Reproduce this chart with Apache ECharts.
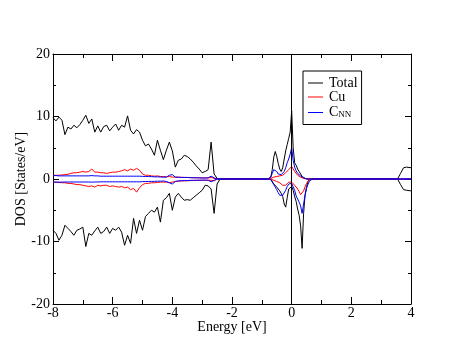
<!DOCTYPE html>
<html>
<head>
<meta charset="utf-8">
<script src="https://cdn.jsdelivr.net/npm/echarts@6/dist/echarts.min.js"></script>
<style>
  html, body { margin: 0; padding: 0; background: #fff; }
  #chart { width: 463px; height: 358px; }
</style>
</head>
<body>
<div id="chart"></div>
<script>
// energy grid [eV]: valence band, states around E_F, edge at 4 eV
var energy = [
  -8.0, -7.9, -7.8, -7.7, -7.6, -7.5, -7.4, -7.3, -7.2, -7.1,
  -7.0, -6.9, -6.8, -6.7, -6.6, -6.5, -6.4, -6.3, -6.2, -6.1,
  -6.0, -5.9, -5.8, -5.7, -5.6, -5.5, -5.4, -5.3, -5.2, -5.1,
  -5.0, -4.9, -4.8, -4.7, -4.6, -4.5, -4.4, -4.3, -4.2, -4.1,
  -4.0, -3.9, -3.8, -3.7, -3.6, -3.5, -3.4, -3.3, -3.2, -3.1,
  -3.0, -2.9, -2.8, -2.7, -2.6, -2.5, -2.4, -2.3,
  -0.8, -0.75, -0.7, -0.65, -0.6, -0.55, -0.5, -0.45, -0.4, -0.35,
  -0.3, -0.25, -0.2, -0.15, -0.1, -0.05, 0.0, 0.05, 0.1, 0.15,
  0.2, 0.25, 0.3, 0.35, 0.4, 0.45, 0.5, 0.55, 0.6, 0.65, 0.7,
  3.55, 3.65, 3.75, 3.85, 4.0
]

var totalUp = [
  9.8, 9.3, 9.9, 9.4, 7.1, 8.3, 8.0, 8.6, 8.2, 8.7,
  9.4, 10.2, 8.9, 9.6, 7.5, 8.5, 7.5, 8.4, 8.6, 7.7,
  8.3, 8.8, 7.8, 8.6, 8.3, 10.1, 7.8, 7.2, 7.9, 7.5,
  6.2, 5.3, 5.6, 4.8, 3.8, 6.2, 4.6, 3.1, 4.6, 5.9,
  4.5, 1.9, 3.0, 3.2, 3.8, 3.6, 3.2, 2.7, 2.1, 1.6,
  1.0, 1.2, 1.5, 5.9, 0.8, 0.1, 0, 0,
  0, 0, 0.3, 1.5, 3.5, 4.4, 3.6, 2.5, 1.6, 1.2,
  1.8, 3.2, 4.5, 5.5, 6.5, 7.5, 10.9, 5.0, 2.6, 2.2,
  1.6, 1.2, 0.8, 0.4, 0.2, 0.1, 0, 0, 0, 0, 0,
  0, 0.9, 1.8, 1.9, 1.8
]
var totalDown = [
  -8.2, -8.7, -9.8, -9.0, -7.4, -7.9, -8.4, -9.0, -8.2, -8.0,
  -7.7, -10.8, -8.7, -9.0, -8.3, -7.7, -8.7, -8.4, -7.7, -8.7,
  -7.9, -8.2, -7.7, -8.5, -10.6, -9.0, -10.3, -6.3, -8.7, -6.6,
  -8.2, -6.0, -5.5, -5.0, -5.3, -4.5, -6.9, -3.4, -3.0, -2.3,
  -5.0, -2.9, -2.3, -2.9, -3.4, -3.3, -3.4, -3.0, -2.6, -2.2,
  -1.8, -1.0, -1.1, -1.6, -5.5, -0.8, 0, 0,
  0, 0, 0, -0.3, -0.8, -1.1, -1.3, -1.6, -1.9, -2.3,
  -2.8, -4.0, -4.5, -3.0, -1.6, -1.3, -1.2, -1.8, -2.8, -3.6,
  -4.8, -5.8, -7.5, -11.1, -5.5, -2.5, -1.2, -0.4, 0, 0, 0,
  0, -0.9, -1.7, -1.8, -1.9
]

var cuUp = [
  0.6, 0.6, 0.6, 0.65, 0.7, 0.75, 0.9, 1.0, 1.0, 1.1,
  1.2, 1.1, 1.2, 1.6, 1.1, 1.1, 1.0, 1.0, 0.9, 1.0,
  1.1, 1.1, 1.2, 1.3, 1.5, 1.3, 1.6, 1.4, 1.7, 1.4,
  0.8, 0.6, 0.6, 0.5, 0.45, 0.5, 0.4, 0.4, 0.35, 0.4,
  0.3, 0.3, 0.3, 0.28, 0.25, 0.25, 0.22, 0.2, 0.2, 0.2,
  0.2, 0.18, 0.15, 0.25, 0.1, 0, 0, 0,
  0, 0, 0.1, 0.2, 0.3, 0.4, 0.4, 0.4, 0.5, 0.5,
  0.6, 0.8, 1.0, 1.2, 1.5, 1.8, 2.0, 1.6, 1.2, 0.9,
  0.6, 0.4, 0.3, 0.2, 0.1, 0.05, 0, 0, 0, 0, 0,
  0, 0, 0, 0, 0
]
var cuDown = [
  -0.5, -0.5, -0.55, -0.6, -0.6, -0.7, -0.7, -0.8, -0.9, -0.9,
  -1.0, -1.1, -1.2, -1.1, -1.3, -1.0, -1.1, -1.0, -1.0, -1.2,
  -1.1, -1.2, -1.3, -1.2, -1.4, -1.3, -1.7, -1.5, -2.1, -1.4,
  -0.9, -0.7, -0.7, -0.6, -0.6, -0.55, -0.5, -0.5, -0.5, -0.6,
  -0.5, -0.4, -0.35, -0.3, -0.3, -0.28, -0.25, -0.25, -0.22, -0.2,
  -0.2, -0.2, -0.2, -0.2, -0.3, 0, 0, 0,
  0, 0, 0, -0.1, -0.2, -0.3, -0.4, -0.5, -0.6, -0.8,
  -1.0, -1.2, -1.0, -0.7, -0.5, -0.4, -0.5, -0.7, -1.0, -1.3,
  -1.6, -2.0, -2.5, -2.6, -1.9, -1.2, -0.7, -0.3, -0.1, 0, 0,
  0, 0, 0, 0, 0
]

var cnnUp = [
  0.55, 0.55, 0.5, 0.5, 0.5, 0.5, 0.5, 0.5, 0.5, 0.5,
  0.5, 0.5, 0.5, 0.55, 0.5, 0.5, 0.45, 0.45, 0.45, 0.45,
  0.45, 0.45, 0.45, 0.45, 0.45, 0.45, 0.45, 0.45, 0.45, 0.45,
  0.42, 0.4, 0.4, 0.38, 0.35, 0.35, 0.32, 0.3, 0.3, 0.6,
  0.7, 0.3, 0.28, 0.25, 0.25, 0.25, 0.22, 0.2, 0.2, 0.18,
  0.15, 0.15, 0.2, 0.45, 0.2, 0, 0, 0,
  0, 0, 0.3, 0.9, 1.5, 1.7, 1.2, 0.8, 0.6, 0.7,
  0.9, 1.2, 1.8, 2.6, 3.2, 4.0, 5.0, 3.0, 1.9, 1.3,
  0.9, 0.7, 0.5, 0.4, 0.2, 0.1, 0, 0, 0, 0, 0,
  0, 0, 0, 0, 0
]
var cnnDown = [
  -0.5, -0.5, -0.5, -0.5, -0.48, -0.48, -0.48, -0.48, -0.48, -0.48,
  -0.48, -0.48, -0.48, -0.5, -0.48, -0.48, -0.45, -0.45, -0.45, -0.45,
  -0.45, -0.45, -0.45, -0.45, -0.45, -0.45, -0.45, -0.45, -0.45, -0.45,
  -0.42, -0.4, -0.4, -0.38, -0.38, -0.35, -0.35, -0.32, -0.4, -0.6,
  -0.8, -0.4, -0.3, -0.28, -0.25, -0.25, -0.22, -0.2, -0.2, -0.2,
  -0.18, -0.18, -0.2, -0.45, -0.2, 0, 0, 0,
  0, 0, -0.1, -0.4, -0.9, -1.3, -1.7, -2.2, -2.6, -2.8,
  -2.6, -2.3, -1.8, -1.2, -0.8, -0.7, -0.7, -0.8, -1.8, -2.7,
  -3.2, -3.7, -4.3, -5.5, -4.0, -2.6, -1.5, -0.8, -0.3, 0, 0,
  0, 0, 0, 0, 0
]

var seriesNames = ['Total', 'Cu', 'C_NN']
var seriesColors = ['#000000', '#ff0000', '#0000ff']
var xTicks = { min: -8, max: 4, interval: 2 }
var yTicks = { min: -20, max: 20, interval: 10 }

var font = 'Liberation Serif, Times New Roman, serif'

function pairs (arr) {
  return energy.map(function (e, i) { return [e, arr[i]] })
}

function dosLine (name, color, arr) {
  return {
    name: name,
    type: 'line',
    data: pairs(arr),
    showSymbol: false,
    symbol: 'none',
    color: color,
    lineStyle: { color: color, width: 1 },
    animation: false,
    silent: true
  }
}

var chart = echarts.init(document.getElementById('chart'))

var series = [
  dosLine(seriesNames[0], seriesColors[0], totalUp),
  dosLine(seriesNames[0], seriesColors[0], totalDown),
  dosLine(seriesNames[1], seriesColors[1], cuUp),
  dosLine(seriesNames[1], seriesColors[1], cuDown),
  dosLine(seriesNames[2], seriesColors[2], cnnUp),
  dosLine(seriesNames[2], seriesColors[2], cnnDown)
]
// Fermi level
series[0].markLine = {
  silent: true,
  symbol: ['none', 'none'],
  label: { show: false },
  lineStyle: { color: '#000', type: 'solid', width: 1 },
  data: [{ xAxis: 0 }]
}

var tickStyle = { lineStyle: { color: '#000', width: 1 } }

chart.setOption({
  backgroundColor: '#fff',
  animation: false,
  grid: { left: 53, top: 54, right: 52, bottom: 54 },
  legend: {
    data: seriesNames,
    orient: 'vertical',
    left: 303,
    top: 71,
    padding: [5, 4, 5, 5],
    itemGap: 0,
    itemWidth: 15,
    itemHeight: 1,
    icon: 'rect',
    borderColor: '#000',
    borderWidth: 1,
    selectedMode: false,
    formatter: function (name) {
      return name === 'C_NN' ? '{c|C}{s|NN}' : name
    },
    textStyle: {
      fontFamily: font,
      fontSize: 14,
      color: '#000',
      lineHeight: 13,
      padding: [0, 0, 0, 1],
      rich: {
        c: { fontFamily: font, fontSize: 14, color: '#000', lineHeight: 13 },
        s: { fontFamily: font, fontSize: 9, color: '#000', verticalAlign: 'bottom', lineHeight: 13, padding: [6, 0, 0, 0] }
      }
    }
  },
  xAxis: [{
    type: 'value',
    min: xTicks.min,
    max: xTicks.max,
    interval: xTicks.interval,
    name: 'Energy [eV]',
    nameLocation: 'middle',
    nameGap: 16,
    nameMoveOverlap: false,
    nameTextStyle: { fontFamily: font, fontSize: 14, color: '#000' },
    axisLine: { onZero: false, lineStyle: { color: '#000', width: 1 } },
    axisTick: { inside: true, length: 7, lineStyle: tickStyle.lineStyle },
    minorTick: { show: true, splitNumber: 2, length: 4, lineStyle: tickStyle.lineStyle },
    axisLabel: { margin: 2, fontFamily: font, fontSize: 14, color: '#000' },
    splitLine: { show: false }
  }, {
    type: 'value',
    position: 'top',
    min: xTicks.min,
    max: xTicks.max,
    interval: xTicks.interval,
    axisLine: { onZero: false, lineStyle: { color: '#000', width: 1 } },
    axisTick: { inside: true, length: 7, lineStyle: tickStyle.lineStyle },
    minorTick: { show: true, splitNumber: 2, length: 4, lineStyle: tickStyle.lineStyle },
    axisLabel: { show: false },
    splitLine: { show: false }
  }],
  yAxis: [{
    type: 'value',
    min: yTicks.min,
    max: yTicks.max,
    interval: yTicks.interval,
    name: 'DOS [States/eV]',
    nameLocation: 'middle',
    nameGap: 25,
    nameMoveOverlap: false,
    nameTextStyle: { fontFamily: font, fontSize: 14, color: '#000' },
    axisLine: { onZero: false, lineStyle: { color: '#000', width: 1 } },
    axisTick: { inside: true, length: 6, lineStyle: tickStyle.lineStyle },
    minorTick: { show: true, splitNumber: 2, length: 3, lineStyle: tickStyle.lineStyle },
    axisLabel: { margin: 3, fontFamily: font, fontSize: 14, color: '#000' },
    splitLine: { show: false }
  }, {
    type: 'value',
    position: 'right',
    min: yTicks.min,
    max: yTicks.max,
    interval: yTicks.interval,
    axisLine: { onZero: false, lineStyle: { color: '#000', width: 1 } },
    axisTick: { inside: true, length: 6, lineStyle: tickStyle.lineStyle },
    minorTick: { show: true, splitNumber: 2, length: 3, lineStyle: tickStyle.lineStyle },
    axisLabel: { show: false },
    splitLine: { show: false }
  }],
  series: series
})
</script>
</body>
</html>
